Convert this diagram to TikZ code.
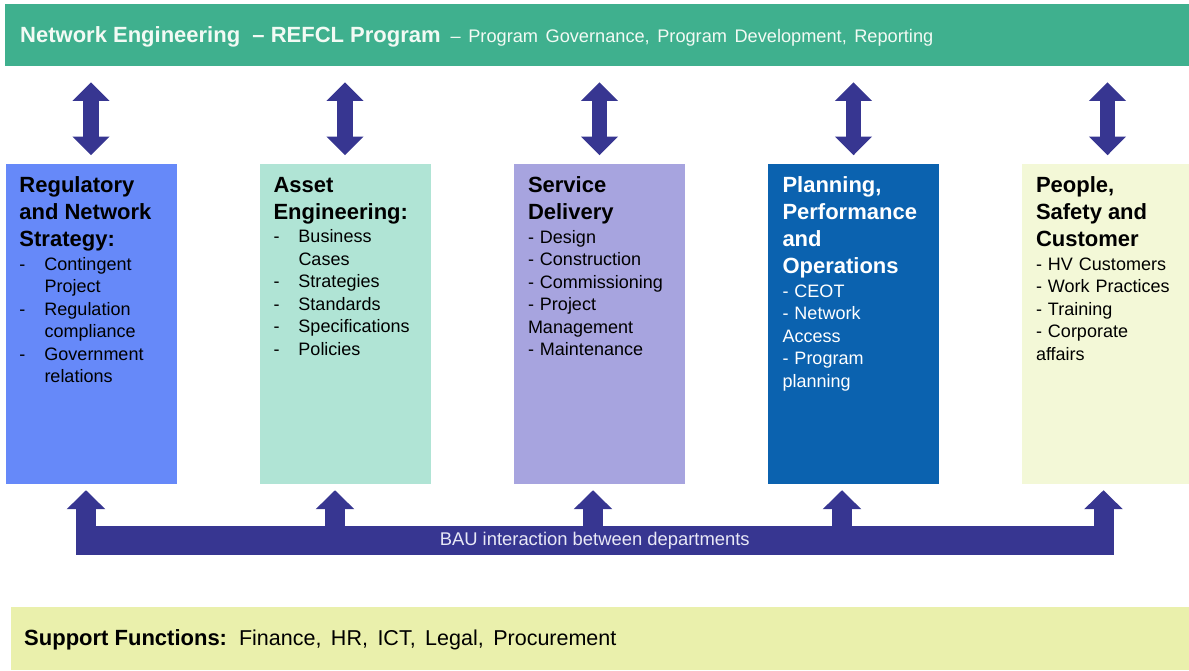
\documentclass[tikz,border=0pt]{standalone}
\usepackage{fontspec}
\setmainfont{Liberation Sans}
\usetikzlibrary{arrows.meta}
\definecolor{progreen}{HTML}{3FB08E}
\definecolor{protext}{HTML}{F2FAF4}
\definecolor{arrowblue}{HTML}{373691}
\definecolor{bautext}{HTML}{E8E8F6}
\definecolor{regc}{HTML}{6689F9}
\definecolor{assetc}{HTML}{B0E4D5}
\definecolor{servc}{HTML}{A7A4DF}
\definecolor{planc}{HTML}{0B62AF}
\definecolor{peoplec}{HTML}{F3F8D7}
\definecolor{supportc}{HTML}{EAF0AC}
\newcommand\dhead[1]{{\fontsize{22}{27}\selectfont\bfseries #1\par}\vskip1pt}
\newcommand\ditem[1]{\hangindent=25pt\hangafter=1\noindent\makebox[25pt][l]{-}#1\par}

\begin{document}
\begin{tikzpicture}[x=1pt,y=-1pt,
  dept/.style={minimum width=171pt,minimum height=320pt,inner sep=0pt},
  dtext/.style={anchor=north west,inner sep=0pt,text width=155pt,align=left,font=\fontsize{18}{22.5}\selectfont},
  dblarrow/.style={draw=arrowblue,line width=15.5pt,{Triangle[length=18.7pt,width=36pt]}-{Triangle[length=18.7pt,width=36pt]},shorten <=16pt,shorten >=8.5pt},
  uparrow/.style={draw=arrowblue,line width=20pt,-{Triangle[length=19pt,width=37.5pt]},shorten >=6pt}]
\useasboundingbox (0,0) rectangle (1189,670);
\node[fill=progreen,minimum width=1184pt,minimum height=62pt,inner sep=0pt] (prog) at (597,35) {};
\node[anchor=base west,inner sep=0pt,text=protext] (progtitle) at (20,42.7) {\fontsize{22}{26}\selectfont\bfseries Network Engineering\ \ – REFCL Program\hspace{10pt}{\fontsize{18.2}{22}\selectfont\mdseries\spaceskip=7.5pt – Program Governance, Program Development, Reporting}};

\node[dept,fill=regc] (b1) at (91,324) {};
\node[dept,fill=assetc] (b2) at (345,324) {};
\node[dept,fill=servc] (b3) at (599.5,324) {};
\node[dept,fill=planc] (b4) at (853.5,324) {};
\node[dept,fill=peoplec] (b5) at (1107.5,324) {};

\node[dtext] (t1) at ([xshift=14pt,yshift=-13pt]b1.north west) {\dhead{Regulatory\newline and Network\newline Strategy:}\ditem{Contingent\newline Project}\ditem{Regulation\newline compliance}\ditem{Government\newline relations}};
\node[dtext] (t2) at ([xshift=14pt,yshift=-13pt]b2.north west) {\dhead{Asset\newline Engineering:}\ditem{Business\newline Cases}\ditem{Strategies}\ditem{Standards}\ditem{Specifications}\ditem{Policies}};
\node[dtext] (t3) at ([xshift=14pt,yshift=-13pt]b3.north west) {\dhead{Service\newline Delivery}- Design\newline - Construction\newline - Commissioning\newline - Project\newline Management\newline - Maintenance};
\node[dtext,text=white] (t4) at ([xshift=14.5pt,yshift=-13pt]b4.north west) {\dhead{Planning,\newline Performance\newline and\newline Operations}- CEOT\newline - Network\newline Access\newline - Program\newline planning};
\node[dtext] (t5) at ([xshift=14pt,yshift=-13pt]b5.north west) {\dhead{People,\newline Safety and\newline Customer}- HV\ Customers\newline - Work Practices\newline - Training\newline - Corporate\newline affairs};

\node[fill=arrowblue,minimum width=1037.5pt,minimum height=29pt,inner sep=0pt,text=bautext,font=\fontsize{18.4}{22}\selectfont] (bau) at (594.75,540.5) {\raisebox{-1.5pt}{BAU interaction between departments}};
\coordinate (u1) at (86,529);
\coordinate (u2) at (335,529);
\coordinate (u3) at (593,529);
\coordinate (u4) at (842,529);
\coordinate (u5) at (1103.5,529);

\foreach \i in {1,...,5} {
  \draw[dblarrow] (b\i.north |- prog.south) -- (b\i.north);
  \draw[uparrow] (u\i) -- (u\i |- b\i.south);
}

\node[fill=supportc,minimum width=1178.3pt,minimum height=63.3pt,inner sep=0pt] (support) at (599.85,638.35) {};
\node[anchor=base west,inner sep=0pt] (supporttext) at (24,645) {{\fontsize{22}{26}\selectfont\bfseries Support Functions:}\hspace{12pt}{\fontsize{21.5}{26}\selectfont\spaceskip=9.5pt Finance, HR, ICT, Legal, Procurement}};
\end{tikzpicture}
\end{document}
